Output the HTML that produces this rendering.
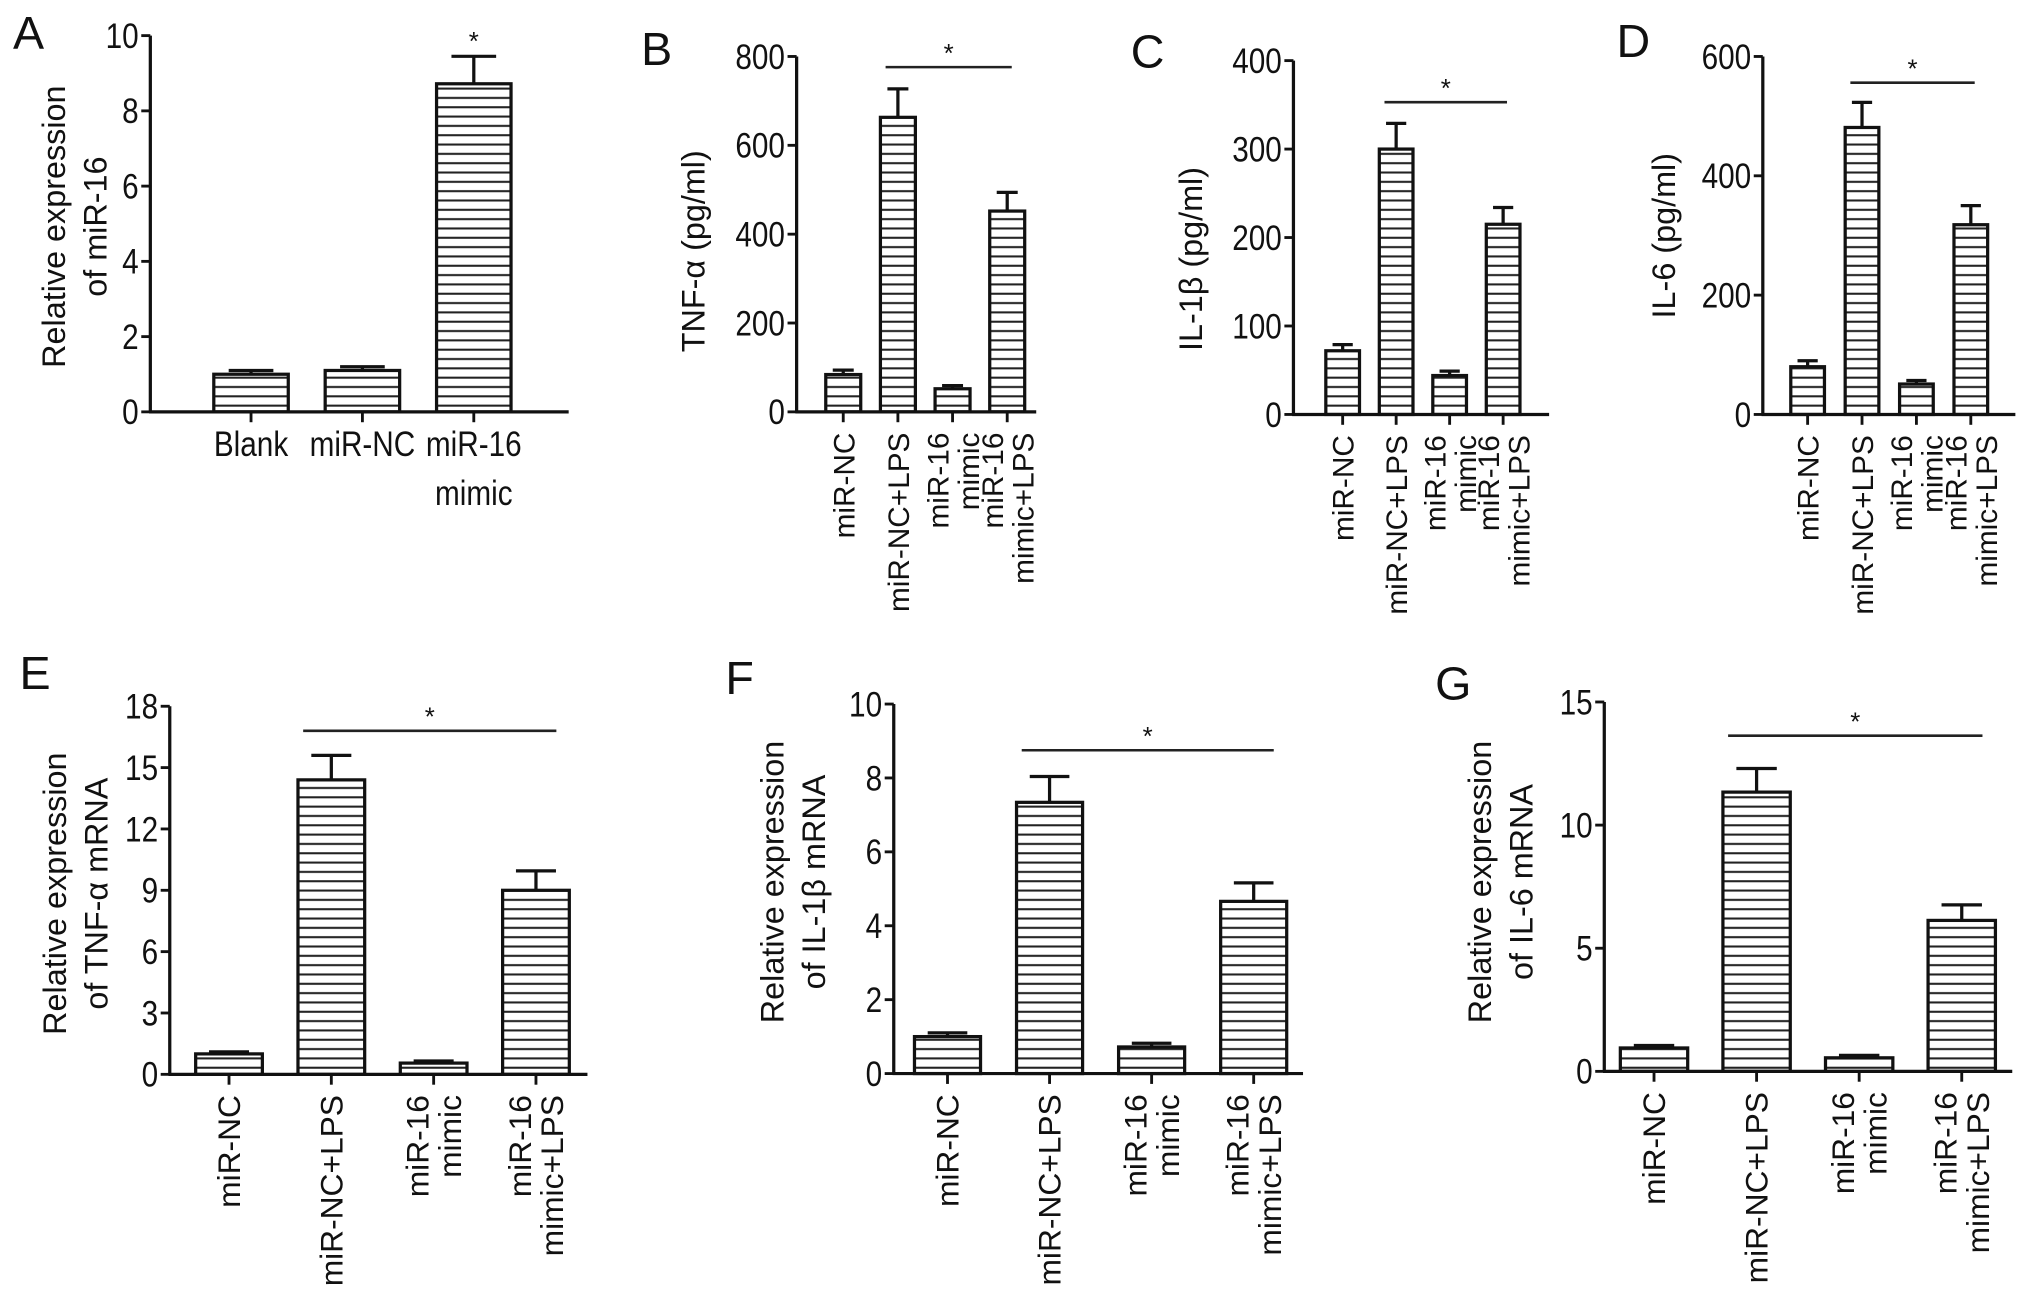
<!DOCTYPE html>
<html><head><meta charset="utf-8"><style>
html,body{margin:0;padding:0;background:#fff}
svg{display:block}
text{font-family:"Liberation Sans",sans-serif;fill:#111}
.n{font-family:"Liberation Sans Narrow","Liberation Sans",sans-serif}
</style></head><body>
<svg id="fig" xmlns="http://www.w3.org/2000/svg" width="2031" height="1312" viewBox="0 0 1568 1013">
<defs><pattern id="hatch" patternUnits="userSpaceOnUse" width="8" height="7.2"><rect width="8" height="7.2" fill="#fff"/><line x1="0" y1="3.6" x2="8" y2="3.6" stroke="#222" stroke-width="1.6"/></pattern></defs>
</svg>
<script>
// ---- data ----
const catsA = ["Blank","miR-NC","miR-16|mimic"];
const valsA = [1.0, 1.1, 8.72];
const errsA = [0.1, 0.1, 0.73];
const ticksA = [0,2,4,6,8,10];
const cats4 = ["miR-NC","miR-NC+LPS","miR-16|mimic","miR-16|mimic+LPS"];
const valsB = [84, 663, 52, 452];
const errsB = [10, 64, 7, 42];
const ticksB = [0,200,400,600,800];
const valsC = [72, 300, 44, 215];
const errsC = [7, 29, 5, 19];
const ticksC = [0,100,200,300,400];
const valsD = [80, 481, 51, 318];
const errsD = [10, 42, 6, 32];
const ticksD = [0,200,400,600];
const valsE = [1.0, 14.4, 0.55, 9.0];
const errsE = [0.1, 1.2, 0.1, 0.95];
const ticksE = [0,3,6,9,12,15,18];
const valsF = [1.0, 7.34, 0.72, 4.66];
const errsF = [0.1, 0.7, 0.1, 0.5];
const ticksF = [0,2,4,6,8,10];
const valsG = [0.95, 11.34, 0.55, 6.13];
const errsG = [0.1, 0.96, 0.1, 0.63];
const ticksG = [0,5,10,15];
const sigB = 776, sigC = 353, sigD = 556, sigE = 16.8, sigF = 8.75, sigG = 13.63;

const NS = "http://www.w3.org/2000/svg";
const svg = document.getElementById('fig');
function mk(tag, attrs, parent, txt){
  const e = document.createElementNS(NS, tag);
  for (const k in attrs) e.setAttribute(k, attrs[k]);
  if (txt !== undefined) e.textContent = txt;
  (parent||svg).appendChild(e);
  return e;
}

const panels = [
 {id:'a', letter:'A', lx:10, ly:38, ax:116, y0:318, yT:27.5, max:10, ticks:ticksA, cats:catsA, vals:valsA, errs:errsA, b0:165, step:86, bw:57.5, xEnd:439, title:["Relative expression","of miR-16"], tx:57, ty:175, flat:true, sig:null},
 {id:'b', letter:'B', lx:495, ly:50, ax:615, y0:318, yT:43.6, max:800, ticks:ticksB, cats:cats4, vals:valsB, errs:errsB, b0:637.5, step:42.2, bw:27, xEnd:800, title:["TNF-\u03b1 (pg/ml)"], tx:535, ty:194, sig:sigB, fs:23, ls:23.5},
 {id:'c', letter:'C', lx:873, ly:52, ax:998.6, y0:320, yT:46.8, max:400, ticks:ticksC, cats:cats4, vals:valsC, errs:errsC, b0:1023.6, step:41.3, bw:26, xEnd:1196, title:["IL-1\u03b2 (pg/ml)"], tx:919, ty:200, sig:sigC, fs:23, ls:23.5},
 {id:'d', letter:'D', lx:1248, ly:44, ax:1361, y0:320, yT:43.6, max:600, ticks:ticksD, cats:cats4, vals:valsD, errs:errsD, b0:1382.6, step:42, bw:26, xEnd:1556, title:["IL-6 (pg/ml)"], tx:1284, ty:182, sig:sigD, fs:23, ls:23.5},
 {id:'e', letter:'E', lx:15, ly:532, ax:131, y0:829.5, yT:545.3, max:18, ticks:ticksE, cats:cats4, vals:valsE, errs:errsE, b0:151, step:79, bw:51.5, xEnd:453.5, title:["Relative expression","of TNF-\u03b1 mRNA"], tx:58, ty:690, sig:sigE, fs:24.5, ls:25},
 {id:'f', letter:'F', lx:560, ly:536, ax:690, y0:828.9, yT:543.6, max:10, ticks:ticksF, cats:cats4, vals:valsF, errs:errsF, b0:706, step:78.8, bw:51, xEnd:1006, title:["Relative expression","of IL-1\u03b2 mRNA"], tx:612, ty:681, sig:sigF, fs:24.5, ls:25},
 {id:'g', letter:'G', lx:1108, ly:540, ax:1238.6, y0:827.2, yT:542, max:15, ticks:ticksG, cats:cats4, vals:valsG, errs:errsG, b0:1251, step:79.2, bw:52, xEnd:1553.6, title:["Relative expression","of IL-6 mRNA"], tx:1158, ty:681, sig:sigG, fs:24.5, ls:25}
];

panels.forEach(p => {
  const g = mk('g', {});
  
  
  const ys = v => p.y0 - (v / p.max) * (p.y0 - p.yT);
  const xc = i => p.b0 + i * p.step + p.bw / 2;
  const L = mk('text', {x:p.lx, y:p.ly, 'font-size':36}, g, p.letter);
  
  
  const ya = mk('line', {x1:p.ax, y1:p.yT, x2:p.ax, y2:p.y0, stroke:'#111', 'stroke-width':2.5}, g);
  
  
  p.ticks.forEach(t => {
    const y = ys(t);
    mk('line', {x1:p.ax-7, y1:y, x2:p.ax, y2:y, stroke:'#111', 'stroke-width':2.2}, g);
    const tl = mk('text', {transform:`translate(${p.ax-9},${y+9.5}) scale(0.85,1)`, 'font-size':27, 'text-anchor':'end', class:'n'}, g, String(t));
    
    
  });
  const tt = mk('text', {transform:`translate(${p.tx},${p.ty}) rotate(-90)`, 'font-size':25, 'text-anchor':'middle'}, g);
  
  
  p.title.forEach((s, i) => mk('tspan', {x:0, y:(i - (p.title.length-1)/2) * 32 + 9}, tt, s));
  p.vals.forEach((v, i) => {
    const x = p.b0 + i * p.step, top = ys(v), et = ys(v + p.errs[i]), c = xc(i);
    const r = mk('rect', {x:x, y:top, width:p.bw, height:p.y0 - top, fill:'url(#hatch)', stroke:'#111', 'stroke-width':2.5}, g);
    
    
    mk('line', {x1:c, y1:top, x2:c, y2:et, stroke:'#111', 'stroke-width':2.5}, g);
    const cw = p.bw * 0.3;
    const eb = mk('line', {x1:c-cw, y1:et, x2:c+cw, y2:et, stroke:'#111', 'stroke-width':2.5}, g);
    
    
    mk('line', {x1:c, y1:p.y0, x2:c, y2:p.y0+8, stroke:'#111', 'stroke-width':2.2}, g);
    const lines = p.cats[i].split('|');
    if (p.flat) {
      const lt = mk('text', {transform:`translate(${c},${p.y0+34}) scale(0.85,1)`, 'font-size':27, 'text-anchor':'middle', class:'n'}, g);
      
      
      lines.forEach((s, k) => mk('tspan', {x:0, y:k*38}, lt, s));
    } else {
      const lt = mk('text', {transform:`translate(${c},${p.y0+16}) rotate(-90)`, 'font-size':p.fs, 'text-anchor':'end'}, g);
      
      
      lines.forEach((s, k) => mk('tspan', {x:0, y:(k - (lines.length-1)/2) * p.ls + 8.5}, lt, s));
    }
  });
  const xa = mk('line', {x1:p.ax-1, y1:p.y0, x2:p.xEnd, y2:p.y0, stroke:'#111', 'stroke-width':2.5}, g);
  
  
  if (p.sig !== null) {
    const sy = ys(p.sig);
    const x1 = p.b0 + p.step + 4, x2 = p.b0 + 3*p.step + p.bw - 10;
    const sl = mk('line', {x1:x1, y1:sy, x2:x2, y2:sy, stroke:'#222', 'stroke-width':2}, g);
    
    
    const st = mk('text', {x:(x1+x2)/2, y:sy-4, 'font-size':20, 'text-anchor':'middle'}, g, '*');
    
    
  } else {
    const c = xc(2), sy = ys(p.vals[2] + p.errs[2]) - 13;
    const st = mk('text', {x:c, y:sy+8, 'font-size':20, 'text-anchor':'middle'}, g, '*');
    
    
  }
});
</script>
</body></html>
